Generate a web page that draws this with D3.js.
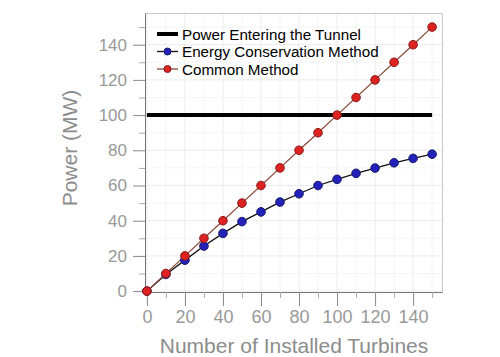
<!DOCTYPE html>
<html><head><meta charset="utf-8">
<script src="https://cdn.jsdelivr.net/npm/d3@7"></script>
<style>body{margin:0;background:#fff}svg{display:block}</style>
</head><body>
<svg id="c" width="500" height="357"></svg>
<script>
const turbines = [0,10,20,30,40,50,60,70,80,90,100,110,120,130,140,150];
const commonMethod = [0,10,20,30,40,50,60,70,80,90,100,110,120,130,140,150];
const energyConservation = [0,9.5,17.6,25.6,32.8,39.5,45,50.6,55.3,60,63.5,66.9,69.9,72.9,75.4,77.8];
const tunnelPower = [100,100];
const tunnelX = [0,150];
const xTicks = [0,20,40,60,80,100,120,140];
const yTicks = [0,20,40,60,80,100,120,140];
const legendLabels = ["Power Entering the Tunnel","Energy Conservation Method","Common Method"];

const svg = d3.select("#c");
const L=145, R=442, T=13, B=292;
const x = d3.scaleLinear().domain([-1,155.2]).range([L,R]);
const y = d3.scaleLinear().domain([-0.5,158]).range([B,T]);

// grid
const g = svg.append("g");
g.selectAll(".gx").data(xTicks.concat([10,30,50,70,90,110,130,150])).enter().append("line")
  .attr("x1",d=>x(d)).attr("x2",d=>x(d)).attr("y1",T).attr("y2",B)
  .attr("stroke",d=>d%20===0?"#ececec":"#f5f5f5").attr("stroke-width",1);
g.selectAll(".gy").data(yTicks.concat([10,30,50,70,90,110,130,150])).enter().append("line")
  .attr("x1",L).attr("x2",R).attr("y1",d=>y(d)).attr("y2",d=>y(d))
  .attr("stroke",d=>d%20===0?"#ececec":"#f5f5f5").attr("stroke-width",1);

// frame top/right
svg.append("path").attr("d",`M${L},${T+0.5}H${R+0.5}V${B}`).attr("fill","none").attr("stroke","#c8c8c8");

// axes
const xAxis = d3.axisBottom(x).tickValues(xTicks).tickSize(14).tickPadding(4).tickSizeOuter(0);
const xg = svg.append("g").attr("transform",`translate(0,${B})`).call(xAxis);
xg.select(".domain").attr("stroke","#777");
xg.selectAll(".tick line").attr("stroke","#888");
xg.selectAll("text").attr("fill","#999").style("font-family","Liberation Sans, Arial, sans-serif").style("font-size","18px");
const xMinor = d3.axisBottom(x).tickValues([10,30,50,70,90,110,130,150]).tickSize(6).tickFormat("").tickSizeOuter(0);
svg.append("g").attr("transform",`translate(0,${B})`).call(xMinor).call(s=>{s.select(".domain").remove();s.selectAll("line").attr("stroke","#aaa");});

const yAxis = d3.axisLeft(y).tickValues(yTicks).tickSize(12).tickPadding(6).tickSizeOuter(0);
const yg = svg.append("g").attr("transform",`translate(${L},0)`).call(yAxis);
yg.select(".domain").attr("stroke","#777");
yg.selectAll(".tick line").attr("stroke","#888");
yg.selectAll("text").attr("fill","#999").style("font-family","Liberation Sans, Arial, sans-serif").style("font-size","17px");
const yMinor = d3.axisLeft(y).tickValues([10,30,50,70,90,110,130,150]).tickSize(6).tickFormat("").tickSizeOuter(0);
svg.append("g").attr("transform",`translate(${L},0)`).call(yMinor).call(s=>{s.select(".domain").remove();s.selectAll("line").attr("stroke","#aaa");});

// titles
svg.append("text").attr("x",294).attr("y",353).attr("text-anchor","middle")
  .attr("fill","#8c8c8c").style("font-family","Liberation Sans, Arial, sans-serif").style("font-size","21px")
  .text("Number of Installed Turbines");
svg.append("text").attr("transform","translate(77,148) rotate(-90)").attr("text-anchor","middle")
  .attr("fill","#8c8c8c").style("font-family","Liberation Sans, Arial, sans-serif").style("font-size","21px")
  .text("Power (MW)");

// tunnel line
svg.append("line").attr("x1",x(tunnelX[0])).attr("x2",x(tunnelX[1]))
  .attr("y1",y(tunnelPower[0])).attr("y2",y(tunnelPower[1])).attr("stroke","#000").attr("stroke-width",4);

const line = d3.line();
const redPts = turbines.map((t,i)=>[x(t),y(commonMethod[i])]);
const bluePts = turbines.map((t,i)=>[x(t),y(energyConservation[i])]);
svg.append("path").attr("d",line(bluePts)).attr("fill","none").attr("stroke","#111").attr("stroke-width",1.3);
svg.append("path").attr("d",line(redPts)).attr("fill","none").attr("stroke","#8a4a3a").attr("stroke-width",1.2);
svg.selectAll(".bp").data(bluePts).enter().append("circle").attr("cx",d=>d[0]).attr("cy",d=>d[1]).attr("r",4.3)
  .attr("fill","#2222bb").attr("stroke","#1a1a6e").attr("stroke-width",1);
svg.selectAll(".rp").data(redPts).enter().append("circle").attr("cx",d=>d[0]).attr("cy",d=>d[1]).attr("r",4.3)
  .attr("fill","#dd2222").attr("stroke","#8a1a1a").attr("stroke-width",1);

// legend
const lg = svg.append("g");
const ly = [34,51.5,69];
const lcol = ["#000","#2222bb","#dd2222"];
legendLabels.forEach((lab,i)=>{
  if(i===0){
    lg.append("line").attr("x1",157).attr("x2",178).attr("y1",ly[i]).attr("y2",ly[i]).attr("stroke","#000").attr("stroke-width",4);
  } else {
    lg.append("line").attr("x1",157).attr("x2",178).attr("y1",ly[i]).attr("y2",ly[i]).attr("stroke",i===1?"#111":"#8a4a3a").attr("stroke-width",1.3);
    lg.append("circle").attr("cx",167.5).attr("cy",ly[i]).attr("r",3.5).attr("fill",lcol[i]).attr("stroke",i===1?"#1a1a6e":"#8a1a1a");
  }
  lg.append("text").attr("x",182).attr("y",ly[i]+5.5).attr("fill","#000")
    .style("font-family","Liberation Sans, Arial, sans-serif").style("font-size","15.2px").text(lab);
});
</script>
</body></html>
